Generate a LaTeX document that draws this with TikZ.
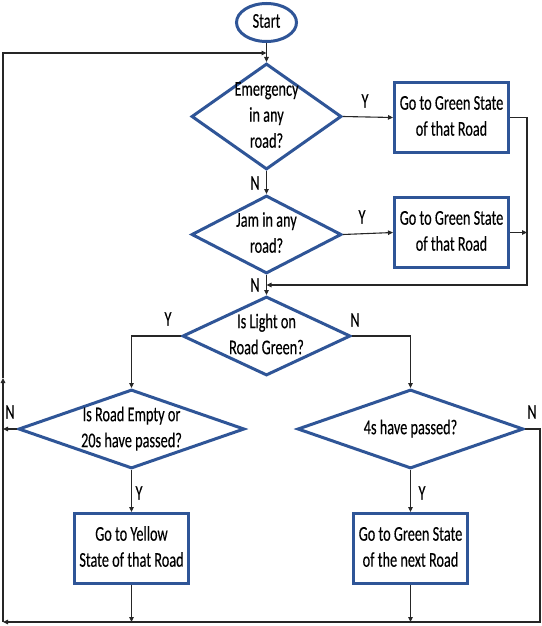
\documentclass[tikz,border=0pt]{standalone}
\usepackage{fontspec}
\setmainfont{Carlito}[FakeBold=0.3]
\usepackage{graphicx}
\usetikzlibrary{shapes.geometric,arrows.meta}
\definecolor{fcblue}{RGB}{47,85,151}
\definecolor{fcline}{RGB}{38,38,38}
\newcommand\sqz[1]{\makebox[0pt]{\scalebox{0.68}[1]{\begin{tabular}{@{}c@{}}#1\end{tabular}}}}
\newcommand\sql[1]{\scalebox{0.68}[1]{#1}}
\begin{document}
\begin{tikzpicture}[x=1pt,y=-1pt,
  every node/.style={font=\fontsize{21}{26}\selectfont, inner sep=0pt},
  shp/.style={draw=fcblue, line width=3pt, fill=white},
  procbox/.style={shp, rectangle, minimum width=114pt, minimum height=70pt},
  decision/.style={shp, diamond},
  term/.style={shp, ellipse, minimum width=60pt, minimum height=38pt},
  arr/.style={draw=fcline, line width=1.1pt, -{Triangle[length=5pt,width=4.5pt]}},
  yn/.style={text=black}
]
\useasboundingbox (0,0) rectangle (541,626);

% shapes
\node[term] (start) at (266.5,22.5) {\sqz{Start}};
\node[decision, minimum width=150pt, minimum height=106pt] (d1) at (266.5,116.5) {\sqz{Emergency\\in any\\road?}};
\node[procbox] (b1) at (451.5,117.5) {\sqz{Go to Green State\\of that Road}};
\node[decision, minimum width=150pt, minimum height=78pt] (d2) at (266.5,234.5) {\sqz{Jam in any\\road?}};
\node[procbox] (b2) at (451.5,232.5) {\sqz{Go to Green State\\of that Road}};
\node[decision, minimum width=168pt, minimum height=79pt] (d3) at (266.5,336) {\sqz{Is Light on\\Road Green?}};
\node[decision, minimum width=226pt, minimum height=79pt] (d4) at (131.5,429) {\sqz{Is Road Empty or\\20s have passed?}};
\node[decision, minimum width=226pt, minimum height=79pt] (d5) at (410.5,429) {\sqz{4s have passed?}};
\node[procbox] (b3) at (131.5,548.5) {\sqz{Go to Yellow\\State of that Road}};
\node[procbox] (b4) at (410.5,548.5) {\sqz{Go to Green State\\of the next Road}};

% helper coordinates
\coordinate (jtop) at (266.5,53);
\coordinate (jmid) at (266.5,285);
\coordinate (rtop) at (527,285);
\coordinate (lup) at (3,378);
\coordinate (lmid) at (3,429);
\coordinate (bl) at (3,622);
\coordinate (br) at (540,622);

% connectors
\draw[arr] (start.south) -- (d1.north);
\draw[arr] (d1.east) -- (b1.west);
\draw[arr] (d1.south) -- (d2.north);
\draw[arr] (d2.east) -- (b2.west);
\draw[arr] (d2.south) -- (d3.north);
\draw[arr] (b1.east) -| (rtop) -- (jmid);
\draw[arr] (b2.east) -- (b2.east -| rtop);
\draw[arr] (d3.west) -| (d4.north);
\draw[arr] (d3.east) -| (d5.north);
\draw[arr] (d4.south) -- (b3.north);
\draw[arr] (d5.south) -- (b4.north);
\draw[arr] (b3.south) -- (b3.south |- bl);
\draw[arr] (b4.south) -- (b4.south |- bl);
\draw[arr] (d5.east) -| (br) -- (bl);
\draw[arr] (bl) -- (lup);
\draw[arr] (lup) |- (jtop);
\draw[arr] (d4.west) -- (lmid);

% labels
\node[yn] (y1) at (365,101) {\sql{Y}};
\node[yn] (n1) at (255,183) {\sql{N}};
\node[yn] (y2) at (362,217) {\sql{Y}};
\node[yn] (n2) at (255,285) {\sql{N}};
\node[yn] (y3) at (168,319) {\sql{Y}};
\node[yn] (n3) at (355,320) {\sql{N}};
\node[yn] (n4) at (10,412) {\sql{N}};
\node[yn] (n5) at (532,412) {\sql{N}};
\node[yn] (y4) at (139,493) {\sql{Y}};
\node[yn] (y5) at (422,493) {\sql{Y}};
\end{tikzpicture}
\end{document}
